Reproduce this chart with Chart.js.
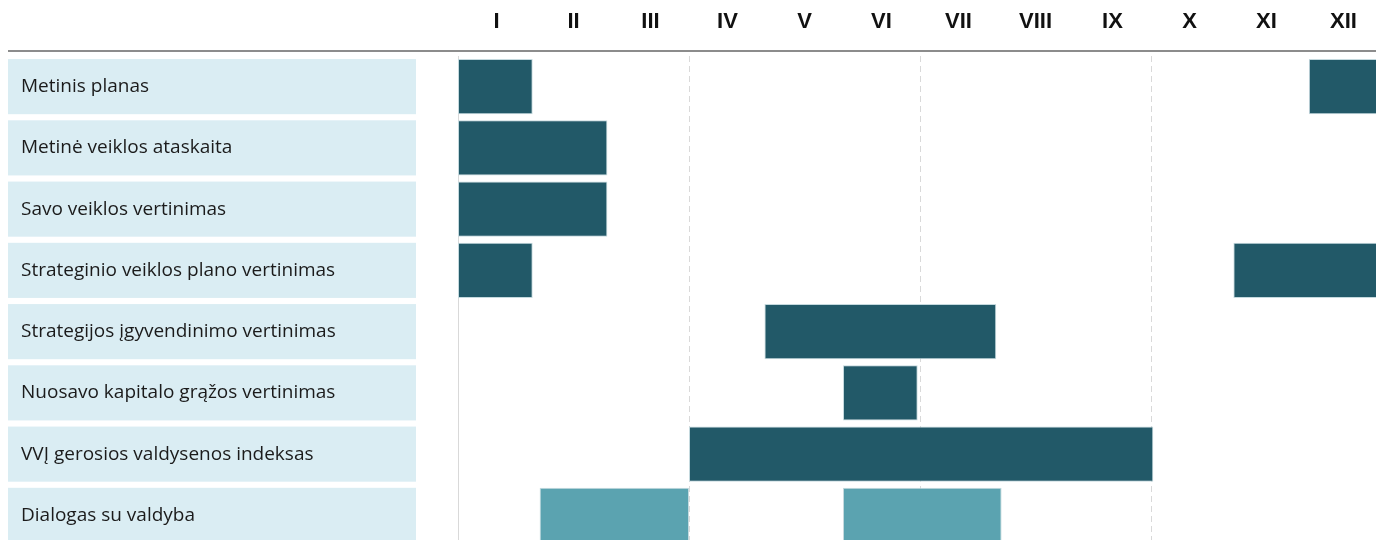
<!DOCTYPE html>
<html>
<head>
<meta charset="utf-8">
<script src="https://cdn.jsdelivr.net/npm/chart.js@4.4.1/dist/chart.umd.min.js"></script>
<style>
  html, body { margin: 0; padding: 0; background: #fff; overflow: hidden; }
  #wrap { width: 1382px; height: 546px; }
</style>
</head>
<body>
<div id="wrap"><canvas id="gantt" width="1382" height="546"></canvas></div>
<script>
const categories = [
  'Metinis planas',
  'Metinė veiklos ataskaita',
  'Savo veiklos vertinimas',
  'Strateginio veiklos plano vertinimas',
  'Strategijos įgyvendinimo vertinimas',
  'Nuosavo kapitalo grąžos vertinimas',
  'VVĮ gerosios valdysenos indeksas',
  'Dialogas su valdyba'
];
const monthLabels = ['I', 'II', 'III', 'IV', 'V', 'VI', 'VII', 'VIII', 'IX', 'X', 'XI', 'XII'];

// spans in months from start of year: [start, end]
const darkFirst = [[0, 0.97], [0, 1.94], [0, 1.94], [0, 0.97], [3.98, 6.99], [5, 5.97], [3, 9.03], null];
const darkSecond = [[11.05, 12], null, null, [10.07, 12], null, null, null, null];
const lightFirst = [null, null, null, null, null, null, null, [1.06, 3]];
const lightSecond = [null, null, null, null, null, null, null, [5, 7.06]];

const DARK = '#225968';
const LIGHT = '#5ba3b0';
const BOX = '#daedf3';
const BAR_PCT = 0.9;

// light blue boxes behind the row labels + grey rule under the month header
const labelBoxes = {
  id: 'labelBoxes',
  beforeDraw(chart) {
    const { ctx, scales: { y } } = chart;
    const pitch = Math.abs(y.getPixelForValue(1) - y.getPixelForValue(0));
    const h = pitch * BAR_PCT;
    ctx.save();
    ctx.fillStyle = BOX;
    categories.forEach((c, i) => {
      const yc = y.getPixelForValue(i);
      ctx.fillRect(8, yc - h / 2, 408, h);
    });
    ctx.restore();
  },
  afterDraw(chart) {
    const { ctx, chartArea } = chart;
    ctx.save();
    ctx.strokeStyle = '#8c8c8c';
    ctx.lineWidth = 2;
    ctx.beginPath();
    ctx.moveTo(8, chartArea.top - 5);
    ctx.lineTo(chart.width, chartArea.top - 5);
    ctx.stroke();
    ctx.restore();
  }
};

const barDefaults = {
  grouped: false,
  borderWidth: 1,
  borderColor: '#c4d9de',
  borderSkipped: false,
  barPercentage: BAR_PCT,
  categoryPercentage: 1
};

new Chart(document.getElementById('gantt'), {
  type: 'bar',
  data: {
    labels: categories,
    datasets: [
      { ...barDefaults, label: 'dark1', data: darkFirst, backgroundColor: DARK },
      { ...barDefaults, label: 'dark2', data: darkSecond, backgroundColor: DARK },
      { ...barDefaults, label: 'light1', data: lightFirst, backgroundColor: LIGHT },
      { ...barDefaults, label: 'light2', data: lightSecond, backgroundColor: LIGHT }
    ]
  },
  options: {
    indexAxis: 'y',
    responsive: false,
    animation: false,
    devicePixelRatio: 1,
    layout: { padding: { left: 21, top: 0, right: 0, bottom: 0 } },
    plugins: { legend: { display: false }, tooltip: { enabled: false } },
    scales: {
      x: {
        type: 'linear',
        position: 'top',
        min: 0,
        max: 12,
        afterBuildTicks: (scale) => {
          scale.ticks = monthLabels.map((m, i) => ({ value: i + 0.5 }));
        },
        afterFit: (scale) => {
          scale.height = 56;
          scale.paddingLeft = 0;
          scale.paddingRight = 0;
        },
        grid: { display: false, drawTicks: false },
        border: { display: false },
        ticks: {
          autoSkip: false,
          maxRotation: 0,
          padding: 21,
          color: '#111',
          font: { family: 'Liberation Sans', size: 22, weight: 'bold' },
          callback: (v, i) => monthLabels[i]
        }
      },
      x2: {
        type: 'linear',
        position: 'top',
        min: 0,
        max: 12,
        afterFit: (scale) => {
          scale.height = 0;
          scale.paddingLeft = 0;
          scale.paddingRight = 0;
        },
        ticks: { display: false, stepSize: 3 },
        grid: {
          drawTicks: false,
          color: (ctx) => (ctx.tick && ctx.tick.value > 0 && ctx.tick.value < 12) ? '#d9d9d9' : 'rgba(0,0,0,0)'
        },
        border: { display: false, dash: [6, 4] }
      },
      y: {
        type: 'category',
        afterFit: (scale) => {
          scale.width = 437;
          scale.paddingTop = 0;
          scale.paddingBottom = 0;
        },
        grid: { display: false, drawTicks: false },
        border: { display: true, color: '#d9d9d9', width: 1 },
        ticks: {
          crossAlign: 'far',
          padding: 0,
          color: '#1b1b1b',
          font: { family: 'Open Sans', size: 19 }
        }
      }
    }
  },
  plugins: [labelBoxes]
});
</script>
</body>
</html>
